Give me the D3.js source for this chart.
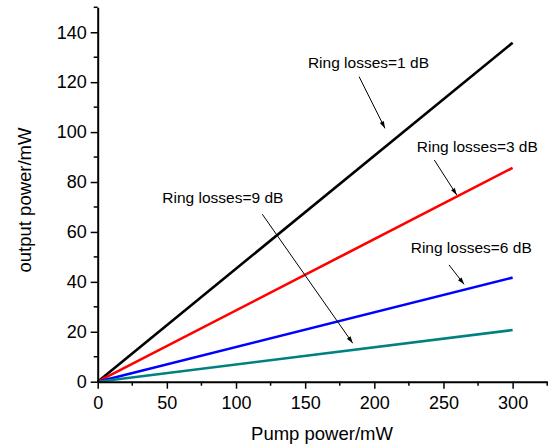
<!DOCTYPE html>
<html>
<head>
<meta charset="utf-8">
<script src="https://cdn.jsdelivr.net/npm/d3@7"></script>
<style>
  body { margin: 0; background: #fff; }
  svg { display: block; font-family: "Liberation Sans", Arial, sans-serif; }
</style>
</head>
<body>
<div id="chart"></div>
<script>
// data: straight lines from origin, end values
const pump = [0, 300];
const loss1dB = [0, 135.8];
const loss3dB = [0, 85.7];
const loss6dB = [0, 41.7];
const loss9dB = [0, 20.7];

const seriesNames = ['1 dB', '3 dB', '6 dB', '9 dB'];
const seriesColors = ['#000000', '#ff0000', '#0000ff', '#008080'];

const xTicks = [0, 50, 100, 150, 200, 250, 300];
const yTicks = [0, 20, 40, 60, 80, 100, 120, 140];

// annotations: label anchor + arrow start/end, in data units
const annoLabels = ['Ring losses=1 dB', 'Ring losses=3 dB', 'Ring losses=6 dB', 'Ring losses=9 dB'];
const annoText = [[152, 125.8], [230.7, 92.1], [226.3, 51.7], [46.7, 71.5]];
const annoFrom = [[189, 122.2], [243.4, 88.8], [254, 46.8], [119, 67.1]];
const annoTo = [[207.7, 101.5], [259.6, 74.8], [264.9, 39], [184.4, 15.4]];

const width = 551, height = 447;
const margin = { left: 97.7, right: 3.8, top: 7.3, bottom: 65.3 };

const svg = d3.select('#chart').append('svg')
  .attr('width', width)
  .attr('height', height);

const x = d3.scaleLinear().domain([0, 325]).range([margin.left, width - margin.right]);
const y = d3.scaleLinear().domain([0, 150]).range([height - margin.bottom, margin.top]);

// arrow head
svg.append('defs').append('marker')
  .attr('id', 'arrowhead')
  .attr('viewBox', '0 -5 10 10')
  .attr('refX', 10)
  .attr('refY', 0)
  .attr('orient', 'auto')
  .attr('markerUnits', 'userSpaceOnUse')
  .attr('markerWidth', 10)
  .attr('markerHeight', 7)
  .append('path')
  .attr('d', 'M0,-3.2L10,0L0,3.2Z')
  .attr('fill', '#000');

// series lines
const allSeries = [loss1dB, loss3dB, loss6dB, loss9dB];
const line = d3.line().x(d => x(d[0])).y(d => y(d[1]));
const lineG = svg.append('g');
allSeries.forEach((vals, i) => {
  lineG.append('path')
    .datum(pump.map((p, j) => [p, vals[j]]))
    .attr('fill', 'none')
    .attr('stroke', seriesColors[i])
    .attr('stroke-width', 2.6)
    .attr('d', line)
    .attr('data-name', seriesNames[i]);
});

// axes
const xAxis = svg.append('g')
  .attr('transform', `translate(0,${y(0)})`)
  .call(d3.axisBottom(x).tickValues(xTicks).tickSize(7).tickPadding(8).tickSizeOuter(0));
const yAxis = svg.append('g')
  .attr('transform', `translate(${x(0)},0)`)
  .call(d3.axisLeft(y).tickValues(yTicks).tickSize(7).tickPadding(4).tickSizeOuter(0));

// minor ticks
svg.append('g').selectAll('line')
  .data(d3.range(25, 326, 50))
  .enter().append('line')
  .attr('x1', d => x(d)).attr('x2', d => x(d))
  .attr('y1', y(0)).attr('y2', y(0) + 4)
  .attr('stroke', '#000').attr('stroke-width', 1.5);
svg.append('g').selectAll('line')
  .data(d3.range(10, 151, 20))
  .enter().append('line')
  .attr('x1', x(0)).attr('x2', x(0) - 4)
  .attr('y1', d => y(d)).attr('y2', d => y(d))
  .attr('stroke', '#000').attr('stroke-width', 1.5);

[xAxis, yAxis].forEach(g => {
  g.select('.domain').attr('stroke', '#000').attr('stroke-width', 2);
  g.selectAll('.tick line').attr('stroke', '#000').attr('stroke-width', 1.5);
  g.selectAll('.tick text')
    .attr('fill', '#000')
    .style('font-size', '18px')
    .style('font-family', '"Liberation Sans", Arial, sans-serif');
});

// axis titles
svg.append('text')
  .attr('x', 322)
  .attr('y', 439.5)
  .attr('text-anchor', 'middle')
  .style('font-size', '18.5px')
  .text('Pump power/mW');

svg.append('text')
  .attr('transform', 'translate(31,200) rotate(-90)')
  .attr('text-anchor', 'middle')
  .style('font-size', '18.5px')
  .text('output power/mW');

// annotations
const anno = svg.append('g');
annoLabels.forEach((label, i) => {
  anno.append('text')
    .attr('x', x(annoText[i][0]))
    .attr('y', y(annoText[i][1]))
    .style('font-size', '15.5px')
    .attr('fill', '#000')
    .text(label);
  anno.append('line')
    .attr('x1', x(annoFrom[i][0]))
    .attr('y1', y(annoFrom[i][1]))
    .attr('x2', x(annoTo[i][0]))
    .attr('y2', y(annoTo[i][1]))
    .attr('stroke', '#000')
    .attr('stroke-width', 1)
    .attr('marker-end', 'url(#arrowhead)');
});
</script>
</body>
</html>
